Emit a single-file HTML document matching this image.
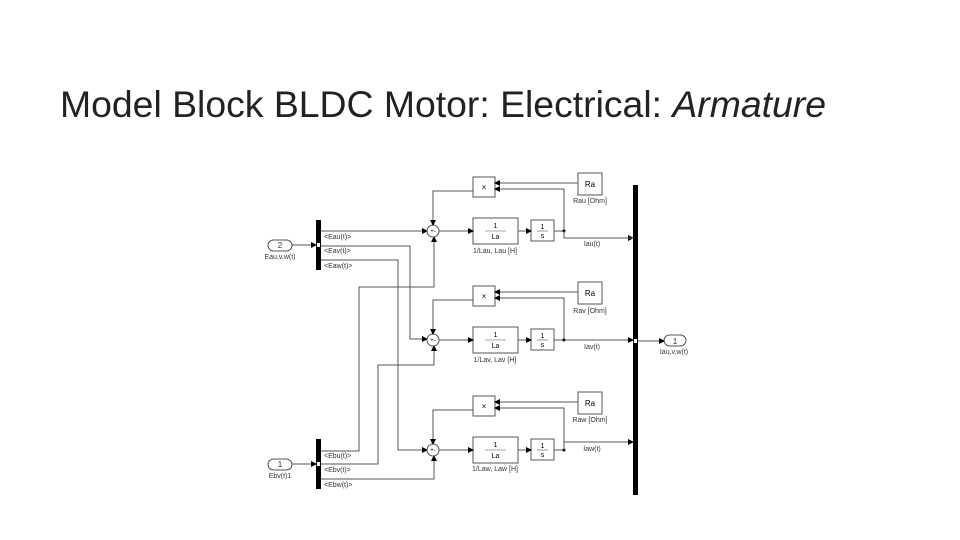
<!DOCTYPE html>
<html><head><meta charset="utf-8"><style>
html,body{margin:0;padding:0;background:#fff;width:960px;height:540px;overflow:hidden}
svg{display:block}
text{font-family:"Liberation Sans",sans-serif}
</style></head><body>
<svg width="960" height="540" viewBox="0 0 960 540" xmlns="http://www.w3.org/2000/svg">
<defs>
<marker id="a" markerWidth="6" markerHeight="6" refX="5" refY="3" orient="auto" markerUnits="userSpaceOnUse">
<path d="M0,0 L6,3 L0,6 Z" fill="#000"/></marker>
</defs>
<text x="60" y="117" font-size="37" fill="#222" textLength="766" lengthAdjust="spacingAndGlyphs" style="font-weight:300">Model Block BLDC Motor: Electrical: <tspan font-style="italic">Armature</tspan></text>

<g fill="none" stroke="#555" stroke-width="1">
<!-- demux bars -->
<rect x="316" y="220" width="5" height="50" fill="#000" stroke="none"/>
<rect x="316" y="439" width="5" height="50" fill="#000" stroke="none"/>
<rect x="633" y="185" width="5" height="310" fill="#000" stroke="none"/>
<rect x="317" y="243" width="3" height="4" fill="#fff" stroke="none"/>
<rect x="317" y="462" width="3" height="4" fill="#fff" stroke="none"/>
<rect x="634" y="339" width="3" height="4" fill="#fff" stroke="none"/>

<!-- inports -->
<rect x="268" y="240" width="24" height="11" rx="5.5"/>
<rect x="268" y="459" width="24" height="11" rx="5.5"/>
<rect x="664" y="335" width="22" height="11" rx="5.5"/>
<line x1="292" y1="245" x2="316" y2="245" marker-end="url(#a)"/>
<line x1="292" y1="464" x2="316" y2="464" marker-end="url(#a)"/>
<line x1="638" y1="341" x2="664" y2="341" marker-end="url(#a)"/>

<!-- Eau to top sum -->
<polyline points="321,231 427,231" marker-end="url(#a)"/>
<polyline points="321,246 410,246 410,339 427,339" marker-end="url(#a)"/>
<polyline points="321,260 398,260 398,450 427,450" marker-end="url(#a)"/>
<polyline points="321,451 359,451 359,287 434,287 434,237" marker-end="url(#a)"/>
<polyline points="321,464 378,464 378,365 434,365 434,346" marker-end="url(#a)"/>
<polyline points="321,479 434,479 434,456" marker-end="url(#a)"/>
</g>

<g id="sec">
<g fill="none" stroke="#555" stroke-width="1">
<rect x="473" y="177" width="22" height="20"/>
<rect x="578" y="173" width="24" height="22"/>
<rect x="473" y="218" width="45" height="26"/>
<rect x="531" y="220" width="23" height="21"/>
<circle cx="433" cy="231" r="6"/>
<polyline points="578,183 495,183" marker-end="url(#a)"/>
<polyline points="564,231 564,189 495,189" marker-end="url(#a)"/>
<polyline points="473,191 433,191 433,225" marker-end="url(#a)"/>
<polyline points="439,231 473,231" marker-end="url(#a)"/>
<polyline points="518,231 531,231" marker-end="url(#a)"/>
<line x1="554" y1="231" x2="564" y2="231"/>
</g>
<circle cx="564" cy="231" r="1.5" fill="#000"/>
<text x="590" y="187" font-size="8" text-anchor="middle">Ra</text>
<text x="484" y="190" font-size="8" text-anchor="middle">×</text>
<text x="495.5" y="228" font-size="7" text-anchor="middle">1</text>
<line x1="485" y1="231" x2="506" y2="231" stroke="#555" stroke-width=".6"/>
<text x="495.5" y="239" font-size="7" text-anchor="middle">La</text>
<text x="542.5" y="229" font-size="7" text-anchor="middle">1</text>
<line x1="537" y1="231" x2="548" y2="231" stroke="#555" stroke-width=".6"/>
<text x="542.5" y="238" font-size="7" text-anchor="middle">s</text>
<text x="433" y="233" font-size="6" text-anchor="middle">+-</text>
</g>
<polyline points="564,231 564,238 633,238" fill="none" stroke="#555" marker-end="url(#a)"/>
<use href="#sec" transform="translate(0,109)"/>
<polyline points="564,340 633,340" fill="none" stroke="#555" marker-end="url(#a)"/>
<use href="#sec" transform="translate(0,219)"/>
<polyline points="564,450 564,442 633,442" fill="none" stroke="#555" marker-end="url(#a)"/>
<rect x="565" y="224" width="60" height="5" fill="#fff"/>
<rect x="565" y="333" width="60" height="5" fill="#fff"/>
<rect x="565" y="443" width="60" height="5" fill="#fff"/>
<polyline points="564,231 564,238 633,238" fill="none" stroke="#555"/>

<g font-size="7" fill="#333">
<text x="590" y="203" text-anchor="middle">Rau [Ohm]</text>
<text x="590" y="313" text-anchor="middle">Rav [Ohm]</text>
<text x="590" y="422" text-anchor="middle">Raw [Ohm]</text>
<text x="495" y="253" text-anchor="middle">1/Lau, Lau [H]</text>
<text x="495" y="362" text-anchor="middle">1/Lav, Lav [H]</text>
<text x="495" y="471" text-anchor="middle">1/Law, Law [H]</text>
<text x="592" y="246" text-anchor="middle">Iau(t)</text>
<text x="592" y="349" text-anchor="middle">Iav(t)</text>
<text x="592" y="451" text-anchor="middle">Iaw(t)</text>
<text x="280" y="248" text-anchor="middle" font-size="8">2</text>
<text x="280" y="467" text-anchor="middle" font-size="8">1</text>
<text x="675" y="344" text-anchor="middle" font-size="8">1</text>
<text x="280" y="259" text-anchor="middle">Eau,v,w(t)</text>
<text x="280" y="478" text-anchor="middle">Ebv(t)1</text>
<text x="674" y="354" text-anchor="middle">Iau,v,w(t)</text>
<text x="324" y="239">&lt;Eau(t)&gt;</text>
<text x="324" y="253">&lt;Eav(t)&gt;</text>
<text x="324" y="268">&lt;Eaw(t)&gt;</text>
<text x="324" y="458">&lt;Ebu(t)&gt;</text>
<text x="324" y="472">&lt;Ebv(t)&gt;</text>
<text x="324" y="487">&lt;Ebw(t)&gt;</text>
</g>
</svg>
</body></html>
